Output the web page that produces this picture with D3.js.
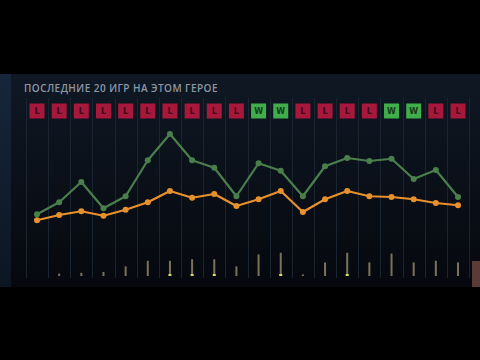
<!DOCTYPE html>
<html>
<head>
<meta charset="utf-8">
<script src="https://cdn.jsdelivr.net/npm/d3@7"></script>
<style>
  html, body { margin: 0; padding: 0; background: #000; }
  svg { display: block; }
</style>
</head>
<body>
<div id="chartDiv"></div>
<script>
// last 20 games on this hero
var titleText = "ПОСЛЕДНИЕ 20 ИГР НА ЭТОМ ГЕРОЕ";
var results = ["L","L","L","L","L","L","L","L","L","L","W","W","L","L","L","L","W","W","L","L"];
var greenVals = [8.1, 9.7, 12.4, 8.9, 10.5, 15.3, 18.8, 15.3, 14.3, 10.5, 14.9, 13.9, 10.5, 14.5, 15.6, 15.2, 15.5, 12.8, 14.0, 10.4];
var orangeVals = [7.3, 8.0, 8.5, 7.9, 8.7, 9.7, 11.2, 10.3, 10.8, 9.2, 10.1, 11.2, 8.4, 10.1, 11.2, 10.5, 10.4, 10.1, 9.6, 9.3];
var barVals = [0, 0.3, 0.4, 0.5, 1.2, 1.9, 1.9, 2.1, 2.1, 1.2, 2.7, 2.9, 0.2, 1.7, 2.9, 1.7, 2.8, 1.7, 1.9, 1.7];
var barMarks = [0, 0, 0, 0, 0, 0, 1, 1, 1, 0, 0, 1, 0, 0, 1, 0, 0, 0, 0, 0];

var width = 480, height = 360;
var panel = { top: 74, bottom: 287, left: 11, right: 472 };

var svg = d3.select("#chartDiv").append("svg")
  .attr("width", width)
  .attr("height", height);

var defs = svg.append("defs");
var grad = defs.append("linearGradient").attr("id", "panelGrad")
  .attr("x1", 0).attr("y1", 0).attr("x2", 0).attr("y2", 1);
grad.append("stop").attr("offset", "0%").attr("stop-color", "#0f1824");
grad.append("stop").attr("offset", "100%").attr("stop-color", "#06080e");

var sideGrad = defs.append("linearGradient").attr("id", "sideGrad")
  .attr("x1", 0).attr("y1", 0).attr("x2", 0).attr("y2", 1);
sideGrad.append("stop").attr("offset", "0%").attr("stop-color", "#17263a");
sideGrad.append("stop").attr("offset", "100%").attr("stop-color", "#0c1522");

svg.append("rect").attr("width", width).attr("height", height).attr("fill", "#000");

// panel background
svg.append("rect")
  .attr("x", 0).attr("y", panel.top)
  .attr("width", width).attr("height", panel.bottom - panel.top)
  .attr("fill", "url(#panelGrad)");

svg.append("rect")
  .attr("x", 0).attr("y", panel.top)
  .attr("width", panel.left).attr("height", panel.bottom - panel.top)
  .attr("fill", "url(#sideGrad)");

// scales
var idx = d3.range(results.length);
var xScale = d3.scalePoint()
  .domain(idx)
  .range([37, 458]);
var step = xScale.step();

var yScale = d3.scaleLinear()
  .domain([0, 20])
  .range([275, 125]);

var barScale = d3.scaleLinear()
  .domain([0, 3])
  .range([276, 252]);

// vertical grid lines between games
var gridPos = d3.range(results.length + 1).map(function(i) { return xScale(0) - step / 2 + i * step; });
svg.append("g").selectAll("line")
  .data(gridPos)
  .enter().append("line")
    .attr("x1", function(d) { return Math.round(d) + 0.5; })
    .attr("x2", function(d) { return Math.round(d) + 0.5; })
    .attr("y1", 98)
    .attr("y2", 278)
    .attr("stroke", "#1b2431")
    .attr("stroke-width", 1);

// title
svg.append("text")
  .attr("x", 24)
  .attr("y", 92)
  .attr("fill", "#8d97a6")
  .style("font-family", "'Open Sans', 'DejaVu Sans', sans-serif")
  .style("font-size", "10px")
  .style("font-weight", "600")
  .style("letter-spacing", "0.45px")
  .text(titleText);

// W/L boxes
var boxes = svg.append("g").selectAll("g")
  .data(results)
  .enter().append("g")
    .attr("transform", function(d, i) { return "translate(" + xScale(i) + ",111)"; });

boxes.append("rect")
  .attr("x", -7.5).attr("y", -7.5)
  .attr("width", 15).attr("height", 15)
  .attr("fill", function(d) { return d == "W" ? "#3fae4b" : "#a8173c"; });

boxes.append("text")
  .attr("text-anchor", "middle")
  .attr("y", 3)
  .attr("fill", function(d) { return d == "W" ? "#173a1a" : "#3a0812"; })
  .style("font-family", "'DejaVu Sans', sans-serif")
  .style("font-size", "8px")
  .style("font-weight", "bold")
  .text(function(d) { return d; });

// small bars at the bottom
var bars = svg.append("g");
bars.selectAll("rect.bar")
  .data(barVals)
  .enter().append("rect")
    .attr("class", "bar")
    .attr("x", function(d, i) { return xScale(i) - 1; })
    .attr("y", function(d) { return barScale(d); })
    .attr("width", 2)
    .attr("height", function(d) { return barScale(0) - barScale(d); })
    .attr("fill", "#7b7358");

bars.selectAll("rect.mark")
  .data(barMarks)
  .enter().append("rect")
    .attr("class", "mark")
    .attr("x", function(d, i) { return xScale(i) - 1.5; })
    .attr("y", barScale(0) - 2)
    .attr("width", 3)
    .attr("height", 2)
    .attr("fill", "#d6dc6a")
    .style("opacity", function(d) { return d; });

// lines
var lineGen = function(vals) {
  return d3.line()
    .x(function(d, i) { return xScale(i); })
    .y(function(d) { return yScale(d); })(vals);
};

function drawSeries(vals, color) {
  svg.append("path")
    .attr("d", lineGen(vals))
    .attr("fill", "none")
    .attr("stroke", color)
    .attr("stroke-width", 2.2)
    .attr("stroke-linejoin", "round");
  svg.append("g").selectAll("circle")
    .data(vals)
    .enter().append("circle")
      .attr("cx", function(d, i) { return xScale(i); })
      .attr("cy", function(d) { return yScale(d); })
      .attr("r", 3)
      .attr("fill", color);
}

drawSeries(greenVals, "#4a7f4c");
drawSeries(orangeVals, "#e8912c");

// brownish block at the right edge
svg.append("rect")
  .attr("x", panel.right)
  .attr("y", 261)
  .attr("width", width - panel.right)
  .attr("height", panel.bottom - 261)
  .attr("fill", "#5b3b36");
</script>
</body>
</html>
